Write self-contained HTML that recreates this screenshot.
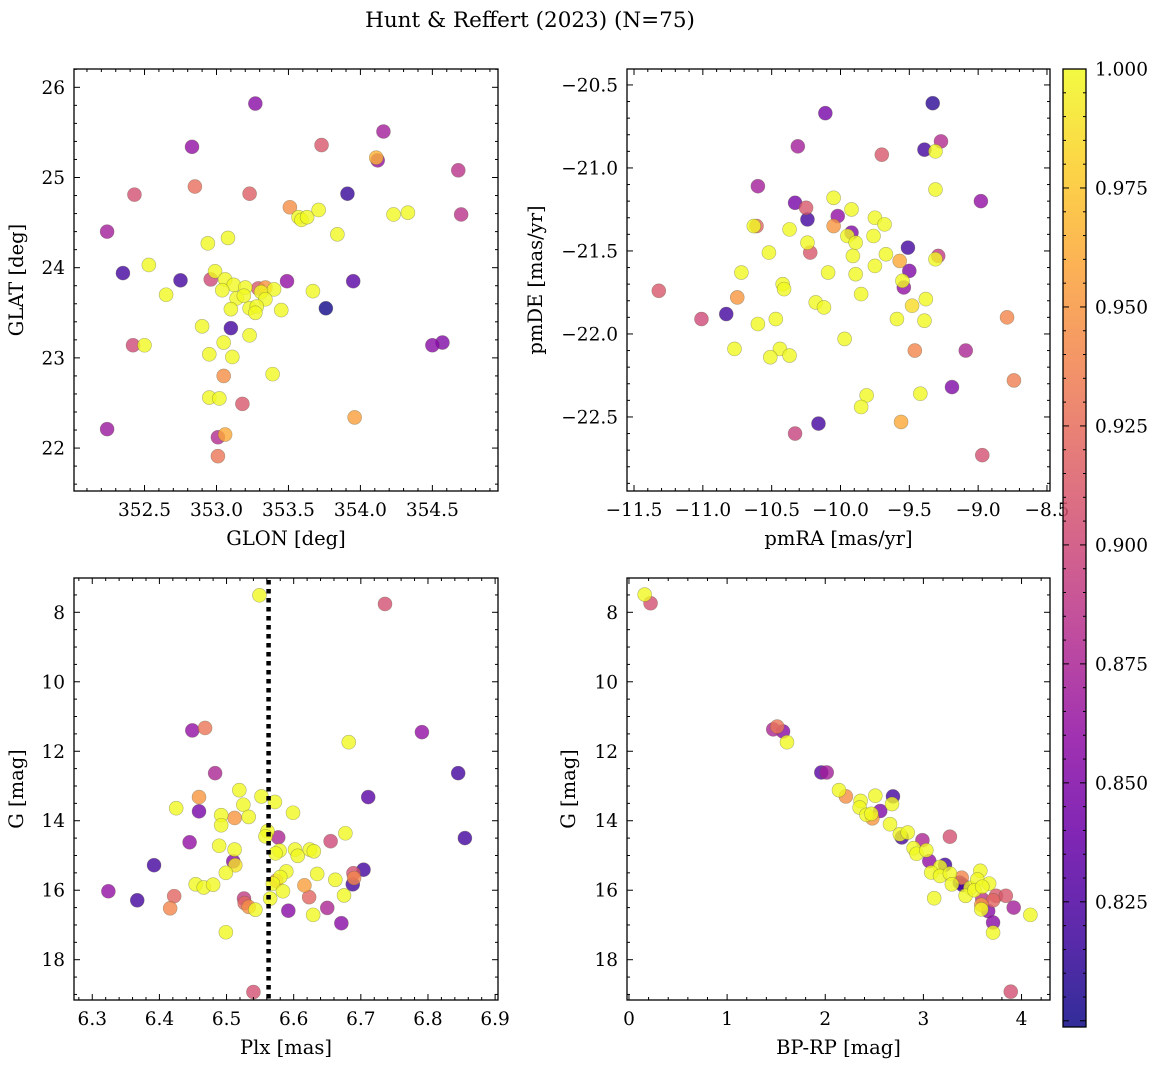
<!DOCTYPE html>
<html><head><meta charset="utf-8"><style>
body{margin:0;background:#fff}
svg text{font-family:"DejaVu Serif","Liberation Serif",serif;fill:#000}
</style></head><body>
<svg id="fig" width="1160" height="1068" viewBox="0 0 1160 1068" xmlns="http://www.w3.org/2000/svg">
<defs><linearGradient id="cbgrad" x1="0" y1="1" x2="0" y2="0"></linearGradient></defs>
<text x="530" y="27" font-size="21.5" text-anchor="middle">Hunt &amp; Reffert (2023) (N=75)</text>
</svg>
<script>
// ---- Panel 1 data: GLON / GLAT ----
const glon1=[353.27,354.16,352.83,353.73,354.12,354.11,354.68,352.85,352.43,353.23,353.91,353.51,353.57,353.59,353.63,353.71,354.23,354.33,354.70,352.24,353.84,352.94,353.08,352.53,352.35,352.99,352.96,352.75,353.49,353.95,353.06,353.12,353.04,353.20,353.29,353.34,353.31,353.40,353.14,353.19,353.34,353.10,353.23,353.28,353.27,353.45,352.65,353.67,353.76,352.90,353.10,353.23,353.05,352.42,352.50,352.95,353.11,354.50,354.57,353.05,353.39,352.95,353.02,353.18,353.96,352.24,353.01,353.06,353.01];
const glat1=[25.82,25.51,25.34,25.36,25.19,25.22,25.08,24.90,24.81,24.82,24.82,24.67,24.56,24.53,24.56,24.64,24.59,24.61,24.59,24.40,24.37,24.27,24.33,24.03,23.94,23.96,23.87,23.86,23.85,23.85,23.87,23.81,23.75,23.78,23.77,23.78,23.73,23.76,23.66,23.69,23.65,23.54,23.55,23.57,23.50,23.53,23.70,23.74,23.55,23.35,23.33,23.25,23.17,23.14,23.14,23.04,23.01,23.14,23.17,22.80,22.82,22.56,22.55,22.49,22.34,22.21,22.12,22.15,21.91];
const prob1=[.855,.87,.86,.91,.86,.965,.885,.925,.905,.915,.815,.945,1,1,1,1,1,1,.885,.87,1,1,1,1,.82,1,.9,.82,.86,.83,1,1,1,1,.91,.95,1,1,1,1,1,1,1,1,1,1,1,1,.80,1,.82,1,1,.9,1,1,1,.855,.85,.945,1,1,1,.91,.955,.865,.88,.96,.93];
// ---- Panel 2 data: pmRA / pmDE ----
const pmra2=[-9.33,-10.11,-9.27,-10.31,-9.70,-9.39,-9.31,-9.31,-10.60,-8.98,-10.33,-10.25,-10.24,-10.05,-10.02,-9.92,-9.75,-9.68,-10.61,-10.63,-10.37,-10.05,-9.92,-9.95,-9.89,-9.76,-10.24,-10.22,-10.52,-9.91,-9.67,-9.51,-9.29,-9.31,-9.57,-9.50,-10.72,-10.09,-9.75,-9.89,-9.55,-9.54,-10.42,-10.41,-11.32,-10.75,-9.85,-9.38,-9.48,-10.18,-10.12,-10.83,-11.01,-10.47,-10.60,-9.59,-9.39,-8.79,-9.97,-10.77,-10.44,-10.51,-10.37,-9.46,-9.09,-8.74,-9.19,-9.81,-9.42,-9.85,-9.56,-10.16,-10.33,-8.97];
const pmde2=[-20.61,-20.67,-20.84,-20.87,-20.92,-20.89,-20.90,-21.13,-21.11,-21.20,-21.21,-21.24,-21.31,-21.18,-21.29,-21.25,-21.30,-21.34,-21.35,-21.35,-21.37,-21.35,-21.39,-21.41,-21.45,-21.41,-21.45,-21.51,-21.51,-21.53,-21.52,-21.48,-21.53,-21.55,-21.56,-21.62,-21.63,-21.63,-21.59,-21.64,-21.68,-21.72,-21.70,-21.73,-21.74,-21.78,-21.76,-21.79,-21.83,-21.81,-21.84,-21.88,-21.91,-21.91,-21.94,-21.91,-21.92,-21.90,-22.03,-22.09,-22.09,-22.14,-22.13,-22.10,-22.10,-22.28,-22.32,-22.37,-22.36,-22.44,-22.53,-22.54,-22.60,-22.73];
const prob2=[.81,.845,.88,.87,.91,.82,1,1,.87,.86,.845,.91,.82,1,.86,1,1,1,.92,1,1,.95,.85,1,1,1,1,.91,1,1,1,.82,.89,1,.96,.85,1,1,1,1,1,.86,1,1,.91,.95,1,1,.985,1,1,.82,.90,1,1,1,1,.94,1,1,1,1,1,.94,.875,.935,.85,1,1,1,.96,.82,.895,.905];
// ---- Panel 3 data: Plx / G ----
const plx3=[6.549,6.736,6.449,6.468,6.791,6.682,6.483,6.845,6.711,6.459,6.519,6.552,6.572,6.525,6.425,6.459,6.492,6.512,6.533,6.599,6.492,6.561,6.558,6.577,6.677,6.655,6.445,6.489,6.512,6.579,6.573,6.602,6.606,6.624,6.63,6.51,6.513,6.392,6.499,6.589,6.58,6.574,6.569,6.635,6.704,6.689,6.69,6.688,6.662,6.616,6.454,6.466,6.48,6.584,6.324,6.367,6.422,6.416,6.623,6.675,6.565,6.526,6.527,6.533,6.543,6.592,6.65,6.629,6.671,6.499,6.54,6.855];
const g3=[7.51,7.76,11.40,11.33,11.45,11.74,12.63,12.63,13.32,13.32,13.12,13.30,13.46,13.54,13.64,13.73,13.84,13.92,13.89,13.77,14.13,14.30,14.45,14.48,14.36,14.59,14.62,14.72,14.83,14.86,14.94,14.83,15.01,14.83,14.88,15.17,15.28,15.28,15.50,15.46,15.62,15.73,15.81,15.53,15.41,15.51,15.65,15.83,15.70,15.86,15.83,15.92,15.84,16.03,16.03,16.29,16.17,16.52,16.20,16.15,16.24,16.24,16.37,16.48,16.56,16.59,16.51,16.71,16.95,17.21,18.93,14.50];
const prob3=[1,.905,.86,.93,.86,1,.875,.82,.83,.95,1,1,1,1,1,.845,1,.95,1,1,1,1,1,.875,1,.9,.86,1,1,1,1,1,1,1,1,.855,.99,.82,1,1,1,.95,1,1,.82,.905,.94,.82,1,.955,1,1,1,1,.86,.82,.92,.94,.92,1,1,.89,.92,.945,1,.855,.875,1,.855,1,.905,.82];
// ---- Panel 4 data: BP-RP / G ----
const bprp4=[0.16,0.22,1.47,1.51,1.57,1.61,1.96,2.015,2.14,2.21,2.51,2.69,2.68,2.36,2.35,2.56,2.42,2.48,2.47,2.66,2.78,2.76,2.84,2.99,3.27,2.90,2.93,3.03,3.06,3.22,3.17,3.08,3.17,3.27,3.29,3.39,3.37,3.48,3.43,3.58,3.55,3.67,3.60,3.71,3.74,3.84,3.59,3.59,3.66,3.71,3.71,3.92,4.09,3.11,3.89,3.40,3.52,3.60];
const g4=[7.49,7.74,11.37,11.29,11.43,11.74,12.61,12.61,13.12,13.30,13.28,13.30,13.52,13.43,13.62,13.72,13.83,13.93,13.80,14.10,14.48,14.39,14.34,14.56,14.46,14.79,14.95,14.85,15.16,15.27,15.33,15.49,15.59,15.52,15.83,15.64,15.78,15.93,16.16,15.44,15.69,15.81,16.26,16.29,16.16,16.16,16.55,16.42,16.60,16.93,17.22,16.50,16.71,16.23,18.92,15.85,16.00,15.90];
const prob4=[1,.905,.875,.93,.855,1,.83,.87,1,.945,1,.82,1,1,1,.85,1,.95,1,1,.82,1,1,.875,.905,1,1,1,.86,.82,1,1,1,1,1,.94,.82,1,1,1,1,1,.885,.92,.91,.91,1,.95,.855,.855,1,.87,1,1,.905,.82,1,1];
// ---- Colorbar ticks ----
const cbTicks=[0.825,0.85,0.875,0.9,0.925,0.95,0.975,1.0];
const dividerPlx=6.5626;

const VMIN=0.7987,VMAX=1.0;
const FS=18.5, LFS=19.5;
const plasma=[[13,8,135],[65,4,157],[106,0,168],[143,13,164],[177,42,144],[204,71,120],[225,100,98],[242,132,75],[252,166,54],[252,206,37],[240,249,33]];
function cmap(p){let t=(p-VMIN)/(VMAX-VMIN);t=Math.max(0,Math.min(1,t));const f=t*10,i=Math.min(9,Math.floor(f)),r=f-i;const a=plasma[i],b=plasma[i+1];
return `rgb(${Math.round(a[0]+(b[0]-a[0])*r)},${Math.round(a[1]+(b[1]-a[1])*r)},${Math.round(a[2]+(b[2]-a[2])*r)})`;}
const NS='http://www.w3.org/2000/svg';const svg=document.getElementById('fig');
function mk(tag,attrs,parent){const e=document.createElementNS(NS,tag);for(const k in attrs)e.setAttribute(k,attrs[k]);(parent||svg).appendChild(e);return e;}
function fmt(v,d){const s=Math.abs(v).toFixed(d);return (v<-1e-9?'\u2212':'')+s;}

function panel(c){
  const g=mk('g',{});
  
  
  const sx=v=>c.x0+(v-c.xl)/(c.xr-c.xl)*(c.x1-c.x0);
  const sy=v=>c.y0+(v-c.yt)/(c.yb-c.yt)*(c.y1-c.y0);
  const idx=c.xs.map((_,i)=>i).sort((a,b)=>c.ps[a]-c.ps[b]);
  const pg=mk('g',{},g);
  
  
  idx.forEach(i=>{const cc=mk('circle',{cx:sx(c.xs[i]),cy:sy(c.ys[i]),r:7,fill:cmap(c.ps[i]),'fill-opacity':0.8,stroke:'rgba(90,90,60,0.45)','stroke-width':0.6},pg);
    
    });
  if(c.extra)c.extra(g,sx,sy);
  const fr=mk('rect',{x:c.x0,y:c.y0,width:c.x1-c.x0,height:c.y1-c.y0,fill:'none',stroke:'#000','stroke-width':1.3},g);
  
  
  const tg=mk('g',{stroke:'#000','stroke-width':1},g);
  const xmin=Math.min(c.xl,c.xr),xmax=Math.max(c.xl,c.xr),ymin=Math.min(c.yt,c.yb),ymax=Math.max(c.yt,c.yb);
  for(let k=Math.ceil(xmin/c.xm-1e-6);k*c.xm<=xmax+1e-9;k++){const v=k*c.xm,X=sx(v);const major=Math.abs(v/c.xM-Math.round(v/c.xM))<1e-6;const L=major?6:3;
    mk('line',{x1:X,x2:X,y1:c.y1,y2:c.y1-L},tg);mk('line',{x1:X,x2:X,y1:c.y0,y2:c.y0+L},tg);
    if(major){const t=mk('text',{x:X,y:c.y1+25,'font-size':FS,'text-anchor':'middle'},g);t.textContent=fmt(v,c.xd);
      
      }}
  for(let k=Math.ceil(ymin/c.ym-1e-6);k*c.ym<=ymax+1e-9;k++){const v=k*c.ym,Y=sy(v);const major=Math.abs(v/c.yM-Math.round(v/c.yM))<1e-6;const L=major?6:3;
    mk('line',{x1:c.x0,x2:c.x0+L,y1:Y,y2:Y},tg);mk('line',{x1:c.x1,x2:c.x1-L,y1:Y,y2:Y},tg);
    if(major){const t=mk('text',{x:c.x0-9,y:Y+6.5,'font-size':FS,'text-anchor':'end'},g);t.textContent=fmt(v,c.yd);
      
      }}
  const xl=mk('text',{x:(c.x0+c.x1)/2,y:c.y1+54,'font-size':LFS,'text-anchor':'middle'},g);xl.textContent=c.xlab;
  
  
  const yx=c.ylx,yy=(c.y0+c.y1)/2;
  const yl=mk('text',{x:yx,y:yy,'font-size':LFS,'text-anchor':'middle',transform:`rotate(-90 ${yx} ${yy})`},g);yl.textContent=c.ylab;
  
  
}
panel({name:'glon-glat-panel',x0:74,x1:498,y0:69,y1:491,xl:352.01,xr:354.956,yt:26.203,yb:21.524,xs:glon1,ys:glat1,ps:prob1,xm:0.1,xM:0.5,xd:1,ym:0.2,yM:1,yd:0,xlab:'GLON [deg]',ylab:'GLAT [deg]',ylx:23});
panel({name:'pm-panel',x0:627,x1:1050,y0:69,y1:491,xl:-11.551,xr:-8.478,yt:-20.404,yb:-22.946,xs:pmra2,ys:pmde2,ps:prob2,xm:0.1,xM:0.5,xd:1,ym:0.1,yM:0.5,yd:1,xlab:'pmRA [mas/yr]',ylab:'pmDE [mas/yr]',ylx:542});
panel({name:'plx-g-panel',x0:74,x1:498,y0:578,y1:1000,xl:6.2728,xr:6.9043,yt:7.013,yb:19.16,xs:plx3,ys:g3,ps:prob3,xm:0.02,xM:0.1,xd:1,ym:0.5,yM:2,yd:0,xlab:'Plx [mas]',ylab:'G [mag]',ylx:23,
 extra:(g,sx,sy)=>{const l=mk('line',{x1:sx(dividerPlx),x2:sx(dividerPlx),y1:580,y2:1000,stroke:'#000','stroke-width':4.5,'stroke-dasharray':'4.5 4.5'},g);
  
  }});
panel({name:'cmd-panel',x0:627,x1:1050,y0:578,y1:1000,xl:-0.02,xr:4.29,yt:7.013,yb:19.16,xs:bprp4,ys:g4,ps:prob4,xm:0.2,xM:1,xd:0,ym:0.5,yM:2,yd:0,xlab:'BP-RP [mag]',ylab:'G [mag]',ylx:575});

// colorbar
const grad=document.getElementById('cbgrad');
for(let i=0;i<=10;i++){mk('stop',{offset:(i*10)+'%','stop-color':`rgb(${plasma[i].join(',')})`,'stop-opacity':0.85},grad);}
const cb=mk('g',{});


const CY0=69,CY1=1027,CX0=1063,CX1=1086;
const cy=v=>CY1-(v-VMIN)/(VMAX-VMIN)*(CY1-CY0);
mk('rect',{x:CX0,y:CY0,width:CX1-CX0,height:CY1-CY0,fill:'url(#cbgrad)',stroke:'#000','stroke-width':1.3},cb);
for(let k=Math.ceil(VMIN/0.005);k*0.005<=VMAX+1e-9;k++){const v=k*0.005;const major=Math.abs(v/0.025-Math.round(v/0.025))<1e-6;
  mk('line',{x1:CX1,x2:CX1-(major?6:3),y1:cy(v),y2:cy(v),stroke:'#000','stroke-width':1},cb);
  mk('line',{x1:CX0,x2:CX0+(major?6:3),y1:cy(v),y2:cy(v),stroke:'#000','stroke-width':1},cb);}
cbTicks.forEach(v=>{const t=mk('text',{x:1095,y:cy(v)+6.5,'font-size':FS},cb);t.textContent=v.toFixed(3);
  
  });
</script>
</body></html>
